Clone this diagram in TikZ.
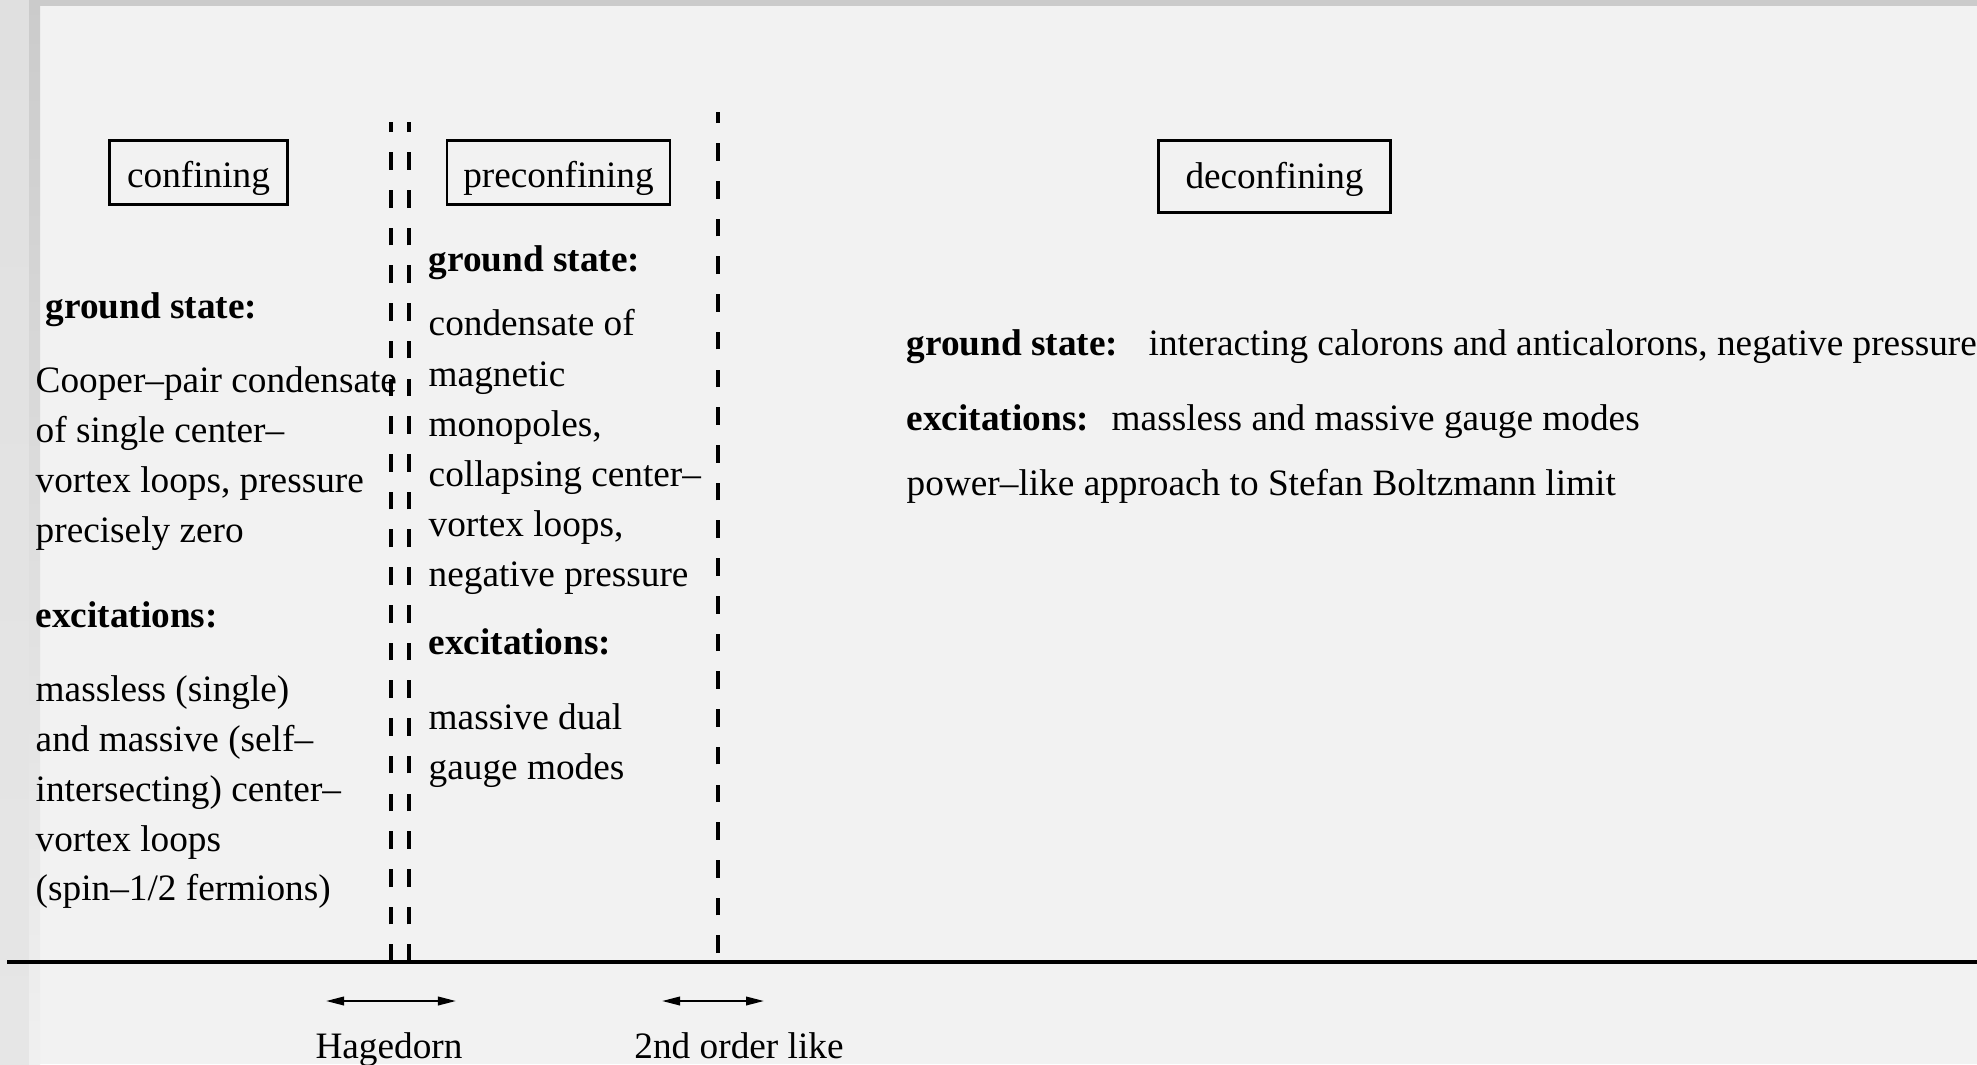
\documentclass[tikz,border=0pt]{standalone}
\usepackage{fontspec}
\setmainfont{Liberation Serif}
\usetikzlibrary{arrows.meta}
\definecolor{bgmain}{HTML}{F2F2F2}
\definecolor{bgband}{HTML}{CBCBCB}
\definecolor{bgleftA}{HTML}{E0E0E0}
\definecolor{bgleftB}{HTML}{E6E6E6}
\definecolor{bgstripB}{HTML}{F0F0F0}
\begin{document}
\begin{tikzpicture}[x=0.01cm,y=-0.01cm,
  basefont/.style={font=\fontsize{10.6}{12.7}\selectfont},
  txt/.style={basefont, anchor=base west, inner sep=0pt},
  hd/.style={txt, font=\fontsize{10.6}{12.7}\selectfont\bfseries},
  lbl/.style={basefont, anchor=base, inner sep=0pt},
  phase/.style={basefont, draw, line width=0.8pt, inner sep=0pt, text depth=0pt},
  border/.style={line width=0.95pt, dash pattern=on 1.76mm off 2.01mm},
  axisline/.style={line width=1.1pt},
  trans/.style={line width=0.6pt, {Triangle[length=1.8mm,width=0.85mm]}-{Triangle[length=1.8mm,width=0.85mm]}}]
\useasboundingbox (0,0) rectangle (1977,1064);
% background
\fill[bgmain] (0,0) rectangle (1977,1064);
\shade[top color=bgleftA, bottom color=bgleftB] (0,0) rectangle (29,1064);
\shade[top color=bgband, bottom color=bgstripB] (29,0) rectangle (40,1064);
\fill[bgband] (29,0) rectangle (1977,6);

% phase boxes
\node[phase, minimum width=1.78cm, minimum height=0.645cm, text height=8.8pt] (conf) at (198.5,172.5) {confining};
\node[phase, minimum width=2.23cm, minimum height=0.645cm, text height=8.8pt] (preconf) at (558.5,172.5) {preconfining};
\node[phase, minimum width=2.32cm, minimum height=0.72cm, text height=6.6pt] (deconf) at (1274.5,176.5) {deconfining};

% axis and phase borders
\coordinate (axL) at (7,962);
\coordinate (axR) at (1977,962);
\draw[axisline] (axL) -- (axR);
\coordinate (hA0) at (391,962); \coordinate (hA1) at (391,122);
\coordinate (hB0) at (409,962); \coordinate (hB1) at (409,122);
\coordinate (sO0) at (718,953); \coordinate (sO1) at (718,112);
\draw[border] (hA0) -- (hA1);
\draw[border] (hB0) -- (hB1);
\draw[border] (sO0) -- (sO1);

% transition arrows
\coordinate (hagL) at (326,1001); \coordinate (hagR) at (456,1001);
\coordinate (secL) at (662,1001); \coordinate (secR) at (764,1001);
\draw[trans] (hagL) -- (hagR);
\draw[trans] (secL) -- (secR);
\node[lbl] (hag) at (389,1058) {Hagedorn};
\node[lbl] (sec) at (739,1058) {2nd order like};

% confining column
\node[hd] (cgs) at (45,319) {ground state:};
\node[txt] (c1) at (35,392) {Cooper–pair condensate};
\node[txt] (c2) at (35,442) {of single center–};
\node[txt] (c3) at (35,492) {vortex loops, pressure};
\node[txt] (c4) at (35,542) {precisely zero};
\node[hd] (cex) at (35,627) {excitations:};
\node[txt] (c5) at (35,701) {massless (single)};
\node[txt] (c6) at (35,751) {and massive (self–};
\node[txt] (c7) at (35,801) {intersecting) center–};
\node[txt] (c8) at (35,851) {vortex loops};
\node[txt] (c9) at (35,900) {(spin–1/2 fermions)};

% preconfining column
\node[hd] (pgs) at (428,272) {ground state:};
\node[txt] (p1) at (428,336) {condensate of};
\node[txt] (p2) at (428,386) {magnetic};
\node[txt] (p3) at (428,436) {monopoles,};
\node[txt] (p4) at (428,486) {collapsing center–};
\node[txt] (p5) at (428,536) {vortex loops,};
\node[txt] (p6) at (428,586) {negative pressure};
\node[hd] (pex) at (428,654) {excitations:};
\node[txt] (p7) at (428,729) {massive dual};
\node[txt] (p8) at (428,779) {gauge modes};

% deconfining column
\node[hd] (dgs) at (906,355) {ground state:};
\node[txt] (d1) at (1148,355) {interacting calorons and anticalorons, negative pressure};
\node[hd] (dex) at (906,430) {excitations:};
\node[txt] (d2) at (1111,430) {massless and massive gauge modes};
\node[txt] (d3) at (906,495) {power–like approach to Stefan Boltzmann limit};
\end{tikzpicture}
\end{document}
